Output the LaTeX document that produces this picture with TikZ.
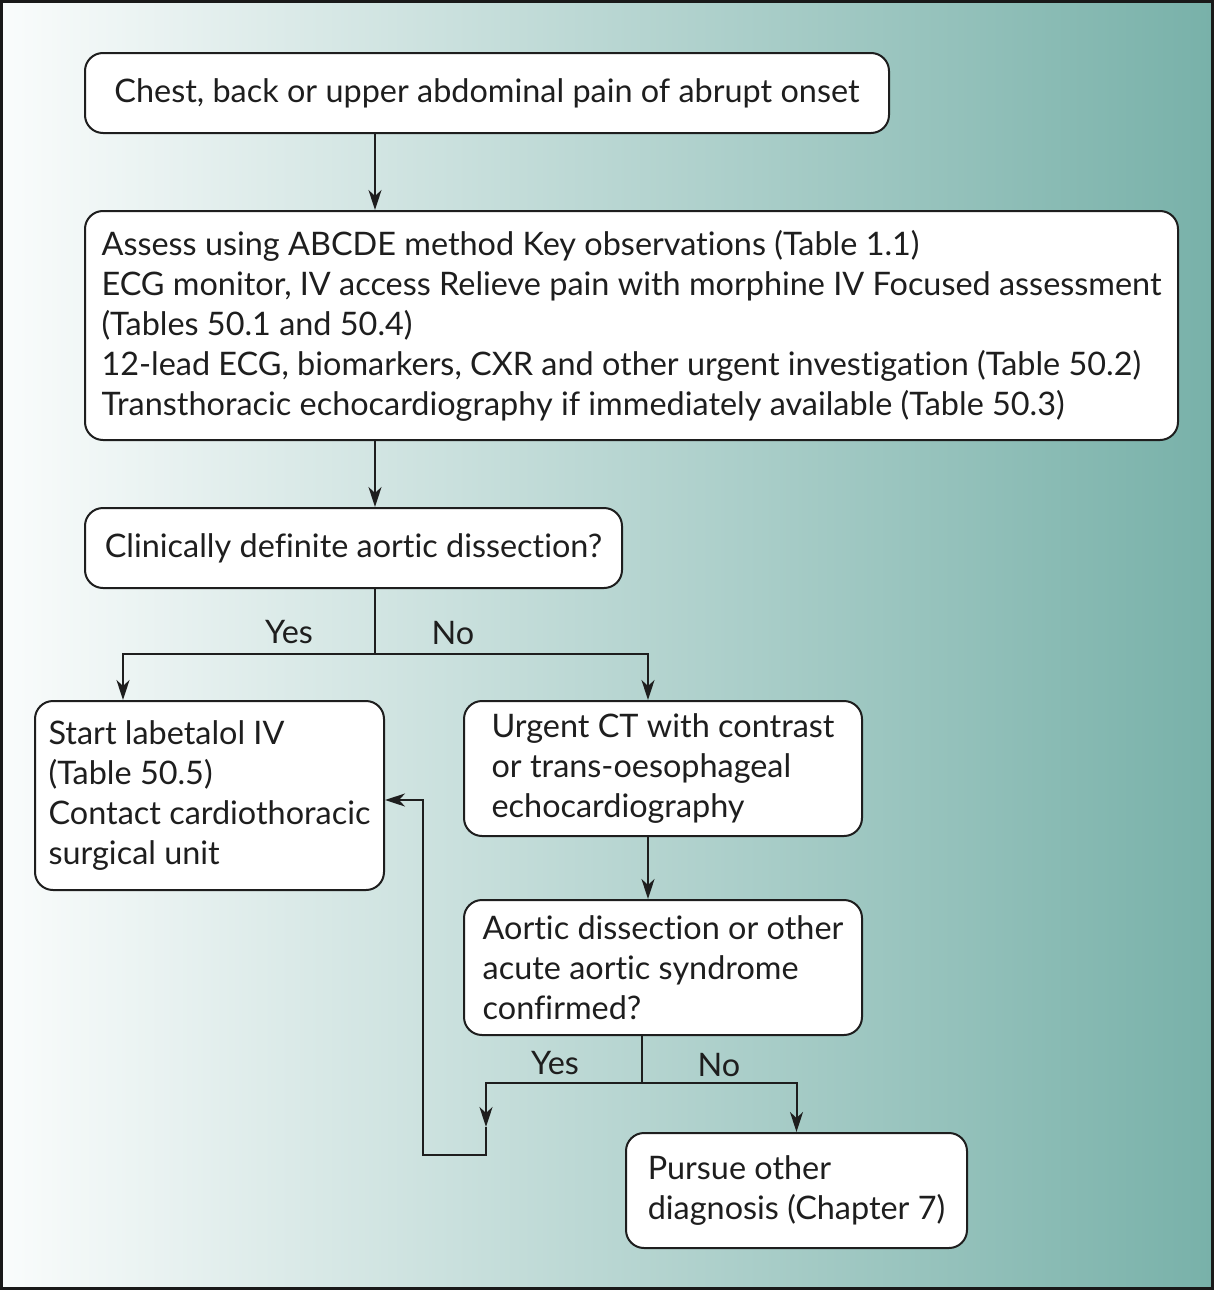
\documentclass[tikz,border=0pt]{standalone}
\usepackage{fontspec}
\setmainfont{Lato}[Ligatures=NoCommon]
\usetikzlibrary{arrows.meta}
\definecolor{tealR}{RGB}{120,177,169}
\definecolor{tealM}{RGB}{190,213,209}
\definecolor{tealL}{RGB}{250,252,252}
\definecolor{frameclr}{RGB}{25,25,25}
\definecolor{ink}{RGB}{30,30,30}
\begin{document}
\begin{tikzpicture}[x=0.5pt,y=-0.5pt,
  box/.style={draw=ink, line width=1pt, rounded corners=9pt, fill=white, align=left,
    font=\fontsize{16.2}{20}\selectfont, inner sep=2pt, text=ink},
  arr/.style={draw=ink, line width=1pt, -{Stealth[length=10pt,width=6.5pt,inset=3pt]}},
  conn/.style={draw=ink, line width=1pt},
  lbl/.style={font=\fontsize{16.2}{20}\selectfont, text=ink, inner sep=0pt}]
\useasboundingbox (0,0) rectangle (1214,1290);
\fill[left color=tealL, middle color=tealM, right color=tealR] (0,0) rectangle (1214,1290);
\draw[frameclr, line width=1.5pt] (1.5,1.5) rectangle (1212.5,1288.5);

\node[box, minimum width=402pt, minimum height=40pt] (b1) at (487,93)
  {Chest, back or upper abdominal pain of abrupt onset};
\node[box, minimum width=546.5pt, minimum height=114.5pt] (b2) at (631.5,325.5)
  {Assess using ABCDE method Key observations (Table 1.1)\\
   ECG monitor, IV access Relieve pain with morphine IV Focused assessment\\
   (Tables 50.1 and 50.4)\\
   12-lead ECG, biomarkers, CXR and other urgent investigation (Table 50.2)\\
   Transthoracic echocardiography if immediately available (Table 50.3)};
\node[box, minimum width=268.5pt, minimum height=40pt] (b3) at (353.5,548)
  {Clinically definite aortic dissection?};
\node[box, minimum width=174.5pt, minimum height=94.5pt] (b4) at (209.5,795.5)
  {Start labetalol IV\\(Table 50.5)\\Contact cardiothoracic\\surgical unit};
\node[box, minimum width=199pt, minimum height=67.5pt] (b5) at (663,768.5)
  {Urgent CT with contrast\\or trans-oesophageal\\echocardiography};
\node[box, minimum width=199pt, minimum height=67.5pt] (b6) at (663,967.5)
  {Aortic dissection or other\\acute aortic syndrome\\confirmed?};
\node[box, minimum width=170.5pt, minimum height=57.5pt] (b7) at (796.5,1190.5)
  {Pursue other\\diagnosis (Chapter 7)};

\node[lbl] (y1) at (289,632) {Yes};
\node[lbl] (n1) at (453,633) {No};
\node[lbl] (y2) at (555,1063) {Yes};
\node[lbl] (n2) at (719,1065) {No};

\coordinate (x375) at (375,0);
\coordinate (x123) at (123,0);
\coordinate (x648) at (648,0);
\coordinate (j1) at (375,654);
\coordinate (j2) at (642,1083);
\coordinate (m1) at (486,1127);
\coordinate (m2) at (486,1155);
\coordinate (m3) at (423,1155);
\coordinate (m4) at (423,800);

\draw[arr] (b1.south -| x375) -- (b2.north -| x375);
\draw[arr] (b2.south -| x375) -- (b3.north -| x375);
\draw[conn] (b3.south -| j1) -- (j1);
\draw[arr] (j1) -| (b4.north -| x123);
\draw[arr] (j1) -| (b5.north -| x648);
\draw[arr] (b5.south -| x648) -- (b6.north -| x648);
\draw[conn] (b6.south -| j2) -- (j2);
\draw[arr] (j2) -| (b7.north);
\draw[arr] (j2) -| (m1);
\draw[arr] (m1) -- (m2) -- (m3) -- (m4) -- (b4.east |- m4);
\end{tikzpicture}
\end{document}
